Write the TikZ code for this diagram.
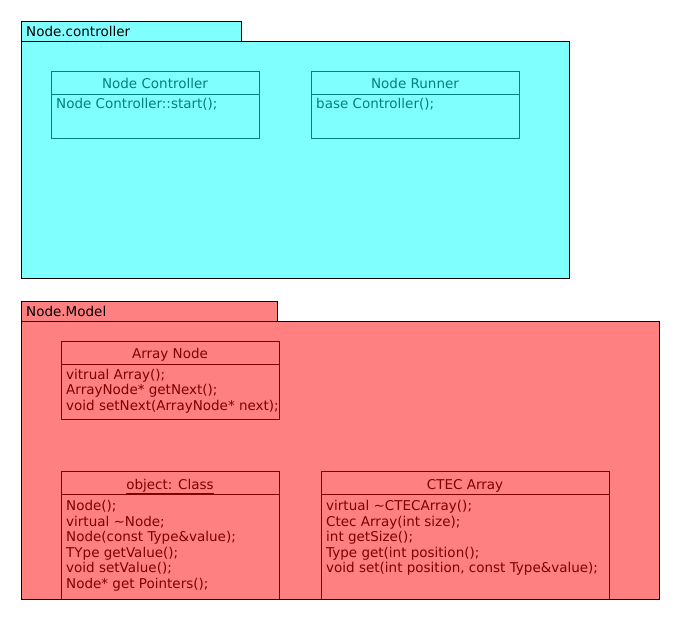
\documentclass[tikz,border=0pt]{standalone}
\usepackage{fontspec}
\setmainfont{DejaVu Sans}
\definecolor{pkgcyan}{HTML}{80FFFF}
\definecolor{pkgred}{HTML}{FF8080}
\definecolor{clsteal}{HTML}{008080}
\definecolor{clsred}{HTML}{800000}
\tikzset{
  pkg/.style={draw=black, line width=0.8pt},
  pkglabel/.style={anchor=base west, inner sep=0pt, font=\fontsize{13.5}{15}\selectfont, text=black},
  clsline/.style={anchor=base west, inner sep=0pt, font=\fontsize{13.5}{15}\selectfont},
  clstitle/.style={anchor=base, inner sep=0pt, font=\fontsize{13.5}{15}\selectfont},
  cyanbox/.style={draw=clsteal, line width=0.8pt},
  redbox/.style={draw=clsred, line width=0.8pt},
}
\begin{document}
\begin{tikzpicture}[x=1pt,y=-1pt]
\useasboundingbox (0,0) rectangle (680,620);
% ---- package Node.controller
\fill[white] (0,0) rectangle (680,620);
\draw[pkg, fill=pkgcyan] (21,21) rectangle (241,41);
\draw[pkg, fill=pkgcyan] (21,41) rectangle (569,278);
\node[pkglabel] (pkgc) at (26,36.5) {Node.controller};
% Node Controller
\draw[cyanbox] (51,71) rectangle (259,138);
\draw[cyanbox] (51,94) -- (259,94);
\node[clstitle, text=clsteal] (ncT) at (155,88.5) {Node Controller};
\node[clsline, text=clsteal] (nc1) at (56,109) {Node Controller::start();};
% Node Runner
\draw[cyanbox] (311,71) rectangle (519,138);
\draw[cyanbox] (311,94) -- (519,94);
\node[clstitle, text=clsteal] (nrT) at (415,88.5) {Node Runner};
\node[clsline, text=clsteal] (nr1) at (316,109) {base Controller();};
% ---- package Node.Model
\draw[pkg, fill=pkgred] (21,301) rectangle (277,321);
\draw[pkg, fill=pkgred] (21,321) rectangle (659,599);
\node[pkglabel] (pkgm) at (26,316.5) {Node.Model};
% Array Node
\draw[redbox] (61,341) rectangle (279,419);
\draw[redbox] (61,364) -- (279,364);
\node[clstitle, text=clsred] (anT) at (170,358.5) {Array Node};
\node[clsline, text=clsred] (an1) at (66,379) {vitrual Array();};
\node[clsline, text=clsred] (an2) at (66,394.5) {ArrayNode* getNext();};
\node[clsline, text=clsred] (an3) at (66,410) {void setNext(ArrayNode* next);};
% object: Class
\draw[redbox] (61,471) rectangle (279,599);
\draw[redbox] (61,494) -- (279,494);
\node[clstitle, text=clsred] (ocT) at (170,489) {\underline{object: Class}};
\node[clsline, text=clsred] (oc1) at (66,510.5) {Node();};
\node[clsline, text=clsred] (oc2) at (66,526) {virtual \textasciitilde Node;};
\node[clsline, text=clsred] (oc3) at (66,541.5) {Node(const Type\&value);};
\node[clsline, text=clsred] (oc4) at (66,557) {TYpe getValue();};
\node[clsline, text=clsred] (oc5) at (66,572.5) {void setValue();};
\node[clsline, text=clsred] (oc6) at (66,588) {Node* get Pointers();};
% CTEC Array
\draw[redbox] (321,471) rectangle (609,599);
\draw[redbox] (321,494) -- (609,494);
\node[clstitle, text=clsred] (caT) at (465,489) {CTEC Array};
\node[clsline, text=clsred] (ca1) at (326,510.5) {virtual \textasciitilde CTECArray();};
\node[clsline, text=clsred] (ca2) at (326,526) {Ctec Array(int size);};
\node[clsline, text=clsred] (ca3) at (326,541.5) {int getSize();};
\node[clsline, text=clsred] (ca4) at (326,557) {Type get(int position();};
\node[clsline, text=clsred] (ca5) at (326,572.5) {void set(int position, const Type\&value);};
% package border redrawn on top
\draw[pkg] (21,321) rectangle (659,599);
\end{tikzpicture}
\end{document}
